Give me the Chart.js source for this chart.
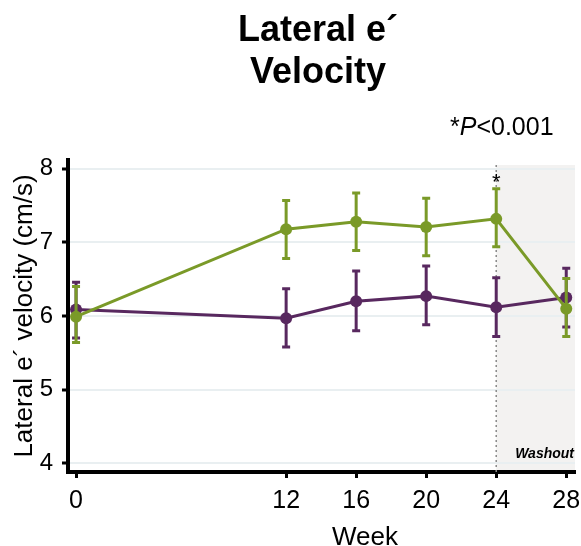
<html>
	<head>
		<meta charset="UTF-8">
		<title> Lateral e´ Velocity </title>
		<script src="https://cdn.jsdelivr.net/npm/chart.js@4.4.1/dist/chart.umd.min.js"></script>
		<style>
			body { margin:0; background:#fff; }
			#wrap { width:581px; height:546px; }
		</style>
	</head>
	<body>
		<div id="wrap"><canvas id="lineChart" width="581" height="546"></canvas></div>

		<script>
			// weeks on the x axis and tick values
			var weeks = [0, 12, 16, 20, 24, 28];
			var xTicks = [0, 12, 16, 20, 24, 28];
			var yTicks = [4, 5, 6, 7, 8];

			// green group: mean with error bar ends
			var greenMean  = [5.99, 7.18, 7.28, 7.21, 7.32, 6.10];
			var greenUpper = [6.40, 7.57, 7.67, 7.60, 7.73, 6.51];
			var greenLower = [5.64, 6.78, 6.89, 6.82, 6.94, 5.72];

			// purple group: mean with error bar ends
			var purpleMean  = [6.09, 5.97, 6.20, 6.27, 6.12, 6.25];
			var purpleUpper = [6.46, 6.37, 6.61, 6.68, 6.52, 6.65];
			var purpleLower = [5.70, 5.58, 5.80, 5.88, 5.72, 5.85];

			var washoutStart = 24;
			var sigWeek = 24;

			var green = '#7a9a28';
			var purple = '#58285f';
			var fontFam = "'Liberation Sans', Arial, sans-serif";

			function pts(means) {
				return weeks.map(function(w, i) { return {x: w, y: means[i]}; });
			}

			// shaded washout period + dotted marker line
			var washoutPlugin = {
				id: 'washout',
				beforeDraw: function(chart) {
					var ctx = chart.ctx, a = chart.chartArea;
					var x0 = chart.scales.x.getPixelForValue(washoutStart);
					ctx.save();
					ctx.fillStyle = '#f3f2f1';
					ctx.fillRect(x0, a.top + 5, a.right - x0, a.bottom - a.top - 5);
					ctx.restore();
				},
				beforeDatasetsDraw: function(chart) {
					var ctx = chart.ctx, a = chart.chartArea;
					var x0 = chart.scales.x.getPixelForValue(washoutStart);
					ctx.save();
					ctx.strokeStyle = '#8a8a8a';
					ctx.lineWidth = 1.5;
					ctx.setLineDash([2, 3]);
					ctx.beginPath();
					ctx.moveTo(x0, a.top + 5);
					ctx.lineTo(x0, a.bottom);
					ctx.stroke();
					ctx.restore();
				}
			};

			// error bars, drawn right after each dataset
			var errorBarPlugin = {
				id: 'errorBars',
				afterDatasetDraw: function(chart, args) {
					var ds = chart.data.datasets[args.index];
					if (!ds.upper) return;
					var ctx = chart.ctx, xs = chart.scales.x, ys = chart.scales.y;
					ctx.save();
					ctx.strokeStyle = ds.borderColor;
					ctx.lineWidth = 3;
					for (var i = 0; i < weeks.length; i++) {
						var x = xs.getPixelForValue(weeks[i]);
						var yt = ys.getPixelForValue(ds.upper[i]);
						var yb = ys.getPixelForValue(ds.lower[i]);
						ctx.beginPath();
						ctx.moveTo(x, yt); ctx.lineTo(x, yb);
						ctx.moveTo(x - 4, yt); ctx.lineTo(x + 4, yt);
						ctx.moveTo(x - 4, yb); ctx.lineTo(x + 4, yb);
						ctx.stroke();
					}
					ctx.restore();
				}
			};

			// title, p-value note, asterisk, x title and washout label
			var textPlugin = {
				id: 'texts',
				afterDraw: function(chart) {
					var ctx = chart.ctx, a = chart.chartArea;
					var xs = chart.scales.x, ys = chart.scales.y;
					ctx.save();
					ctx.fillStyle = '#000';
					ctx.textAlign = 'center';
					ctx.textBaseline = 'alphabetic';
					ctx.font = 'bold 36px ' + fontFam;
					ctx.fillText('Lateral e\u00b4', 318, 41);
					ctx.fillText('Velocity', 318, 83);

					// *P<0.001 with italic P
					ctx.textAlign = 'left';
					var x = 450, y = 135;
					ctx.font = '25px ' + fontFam;
					ctx.fillText('*', x, y);
					x += ctx.measureText('*').width;
					ctx.font = 'italic 25px ' + fontFam;
					ctx.fillText('P', x, y);
					x += ctx.measureText('P').width;
					ctx.font = '25px ' + fontFam;
					ctx.fillText('<0.001', x, y);

					// significance mark over week 24
					var gi = weeks.indexOf(sigWeek);
					ctx.textAlign = 'center';
					ctx.font = '22px ' + fontFam;
					ctx.fillText('*', xs.getPixelForValue(sigWeek), ys.getPixelForValue(greenUpper[gi]));

					// x axis title
					ctx.font = '26px ' + fontFam;
					ctx.fillText('Week', 365, 545);

					ctx.textAlign = 'right';
					ctx.font = 'italic bold 14px ' + fontFam;
					ctx.fillText('Washout', a.right - 1, 458);
					ctx.restore();
				}
			};

			var ctxL = document.getElementById('lineChart').getContext('2d');
			var myLineChart = new Chart(ctxL, {
				type: 'line',
				data: {
					datasets: [{
						label: 'Green',
						data: pts(greenMean),
						upper: greenUpper,
						lower: greenLower,
						borderColor: green,
						backgroundColor: green,
						borderWidth: 3,
						pointRadius: 6,
						pointBorderWidth: 0,
						pointHoverRadius: 6,
						order: 0
					}, {
						label: 'Purple',
						data: pts(purpleMean),
						upper: purpleUpper,
						lower: purpleLower,
						borderColor: purple,
						backgroundColor: purple,
						borderWidth: 3,
						pointRadius: 6,
						pointBorderWidth: 0,
						pointHoverRadius: 6,
						order: 1
					}]
				},
				options: {
					responsive: false,
					animation: false,
					layout: { padding: { top: 160, right: 5, left: 0, bottom: 0 } },
					plugins: {
						legend: { display: false },
						title: { display: false },
						tooltip: { enabled: false }
					},
					scales: {
						x: {
							type: 'linear',
							min: -0.46,
							max: 28.5,
							afterBuildTicks: function(s) { s.ticks = xTicks.map(function(v) { return {value: v}; }); },
							afterFit: function(s) { s.height = 74; s.paddingLeft = 0; s.paddingRight = 0; },
							border: { color: '#000', width: 4 },
							grid: { drawOnChartArea: false, tickColor: '#000', tickLength: 6, tickWidth: 3 },
							ticks: { color: '#000', padding: 8, maxRotation: 0, font: { family: fontFam, size: 25 } },
							title: { display: false }
						},
						y: {
							min: 3.88,
							max: 8.12,
							afterBuildTicks: function(s) { s.ticks = yTicks.map(function(v) { return {value: v}; }); },
							afterFit: function(s) { s.width = 68; },
							border: { color: '#000', width: 4 },
							grid: { color: '#e9eff1', lineWidth: 2, tickColor: '#000', tickLength: 6, tickWidth: 3 },
							ticks: { color: '#000', padding: 9, font: { family: fontFam, size: 24 } },
							title: { display: true, text: 'Lateral e\u00b4 velocity (cm/s)', color: '#000', padding: { top: 9, bottom: 0 }, font: { family: fontFam, size: 26 } }
						}
					}
				},
				plugins: [washoutPlugin, errorBarPlugin, textPlugin]
			});
		</script>
	</body>
</html>
